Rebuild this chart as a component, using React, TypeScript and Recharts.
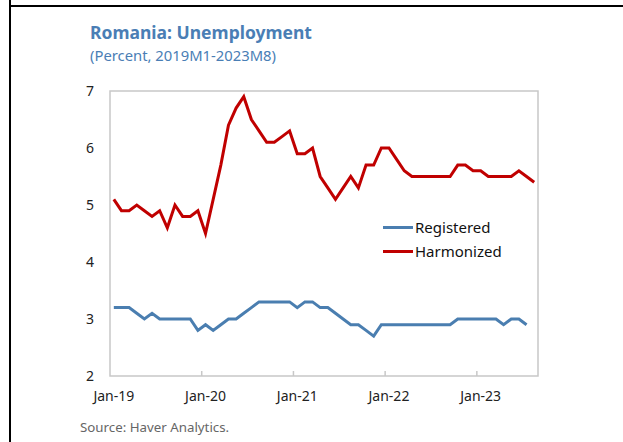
import React from 'react';
import { LineChart, Line, XAxis, YAxis, ReferenceArea } from 'recharts';

const harmonized: number[] = [
  5.1, 4.9, 4.9, 5.0, 4.9, 4.8, 4.9, 4.6, 5.0, 4.8, 4.8, 4.9,
  4.5, 5.1, 5.7, 6.4, 6.7, 6.9, 6.5, 6.3, 6.1, 6.1, 6.2, 6.3,
  5.9, 5.9, 6.0, 5.5, 5.3, 5.1, 5.3, 5.5, 5.3, 5.7, 5.7, 6.0,
  6.0, 5.8, 5.6, 5.5, 5.5, 5.5, 5.5, 5.5, 5.5, 5.7, 5.7, 5.6,
  5.6, 5.5, 5.5, 5.5, 5.5, 5.6, 5.5, 5.4,
];

const registered: (number | null)[] = [
  3.2, 3.2, 3.2, 3.1, 3.0, 3.1, 3.0, 3.0, 3.0, 3.0, 3.0, 2.8,
  2.9, 2.8, 2.9, 3.0, 3.0, 3.1, 3.2, 3.3, 3.3, 3.3, 3.3, 3.3,
  3.2, 3.3, 3.3, 3.2, 3.2, 3.1, 3.0, 2.9, 2.9, 2.8, 2.7, 2.9,
  2.9, 2.9, 2.9, 2.9, 2.9, 2.9, 2.9, 2.9, 2.9, 3.0, 3.0, 3.0,
  3.0, 3.0, 3.0, 2.9, 3.0, 3.0, 2.9, null,
];

const tickLabels: string[] = ['Jan-19', 'Jan-20', 'Jan-21', 'Jan-22', 'Jan-23'];
const tickIndex: number[] = [0, 12, 24, 36, 48];
const yTicks: number[] = [2, 3, 4, 5, 6, 7];

const data = harmonized.map((h, i) => ({ i, harmonized: h, registered: registered[i] }));

const RED = '#C00000';
const BLUE = '#4A7EB0';
const TITLE = '#4A7EB5';
const FRAME = '#C8C8C8';
const FONT = '"Noto Sans", "Open Sans", sans-serif';

const PLOT_W = 428;
const N = harmonized.length;
const HALF_BAND = PLOT_W / N / 2;

const XTick = (props: any) => {
  const { x, y, payload } = props;
  const idx = tickIndex.indexOf(payload.value);
  return (
    <g>
      {payload.value !== 0 && (
        <line x1={x - HALF_BAND} x2={x - HALF_BAND} y1={y} y2={y - 5} stroke={FRAME} strokeWidth={1.5} />
      )}
      <text x={x} y={y + 21} textAnchor="middle" dominantBaseline="middle" fontSize={14} fill="#222" fontFamily={FONT}>
        {tickLabels[idx]}
      </text>
    </g>
  );
};

const legendItems = [
  { name: 'Registered', color: BLUE },
  { name: 'Harmonized', color: RED },
];

export default function App() {
  return (
    <div style={{ position: 'absolute', left: 0, top: 0, width: 623, height: 442, background: '#fff', overflow: 'hidden' }}>
      <div style={{ position: 'absolute', left: 9, top: 0, width: 2, height: 442, background: '#000' }} />
      <div style={{ position: 'absolute', left: 10, top: 5, width: 613, height: 2, background: '#000' }} />
      <div style={{ position: 'absolute', left: 90, top: 20, fontFamily: FONT, fontWeight: 700, fontSize: 17.5, color: TITLE, whiteSpace: 'nowrap' }}>
        Romania: Unemployment
      </div>
      <div style={{ position: 'absolute', left: 90, top: 45, fontFamily: FONT, fontSize: 14.8, color: TITLE, whiteSpace: 'nowrap' }}>
        (Percent, 2019M1-2023M8)
      </div>
      <div style={{ position: 'absolute', left: 80, top: 418, fontFamily: FONT, fontSize: 13.3, color: '#666', whiteSpace: 'nowrap' }}>
        Source: Haver Analytics.
      </div>
      <div style={{ position: 'absolute', left: 0, top: 0 }}>
        <LineChart width={623} height={442} data={data} margin={{ top: 91, right: 85, bottom: 36, left: 70 }}>
          <XAxis
            dataKey="i"
            type="number"
            domain={[-0.5, N - 0.5]}
            ticks={tickIndex}
            tick={<XTick />}
            tickLine={false}
            tickSize={0}
            tickMargin={0}
            axisLine={false}
            height={30}
            allowDataOverflow
          />
          <YAxis
            domain={[2, 7]}
            ticks={yTicks}
            width={40}
            tickLine={false}
            axisLine={false}
            tickMargin={10}
            tick={{ fontSize: 14, fill: '#222', fontFamily: FONT }}
          />
          <ReferenceArea x1={-0.5} x2={N - 0.5} y1={2} y2={7} fill="none" stroke={FRAME} strokeWidth={1.5} />
          <Line dataKey="registered" stroke={BLUE} strokeWidth={3} dot={false} isAnimationActive={false} />
          <Line dataKey="harmonized" stroke={RED} strokeWidth={3} dot={false} isAnimationActive={false} />
        </LineChart>
      </div>
      <div style={{ position: 'absolute', left: 383, top: 215, fontFamily: FONT, fontSize: 15, color: '#111' }}>
        {legendItems.map((it) => (
          <div key={it.name} style={{ display: 'flex', alignItems: 'center', height: 24 }}>
            <span style={{ display: 'inline-block', width: 30, height: 3, background: it.color, marginRight: 2 }} />
            <span>{it.name}</span>
          </div>
        ))}
      </div>
    </div>
  );
}
